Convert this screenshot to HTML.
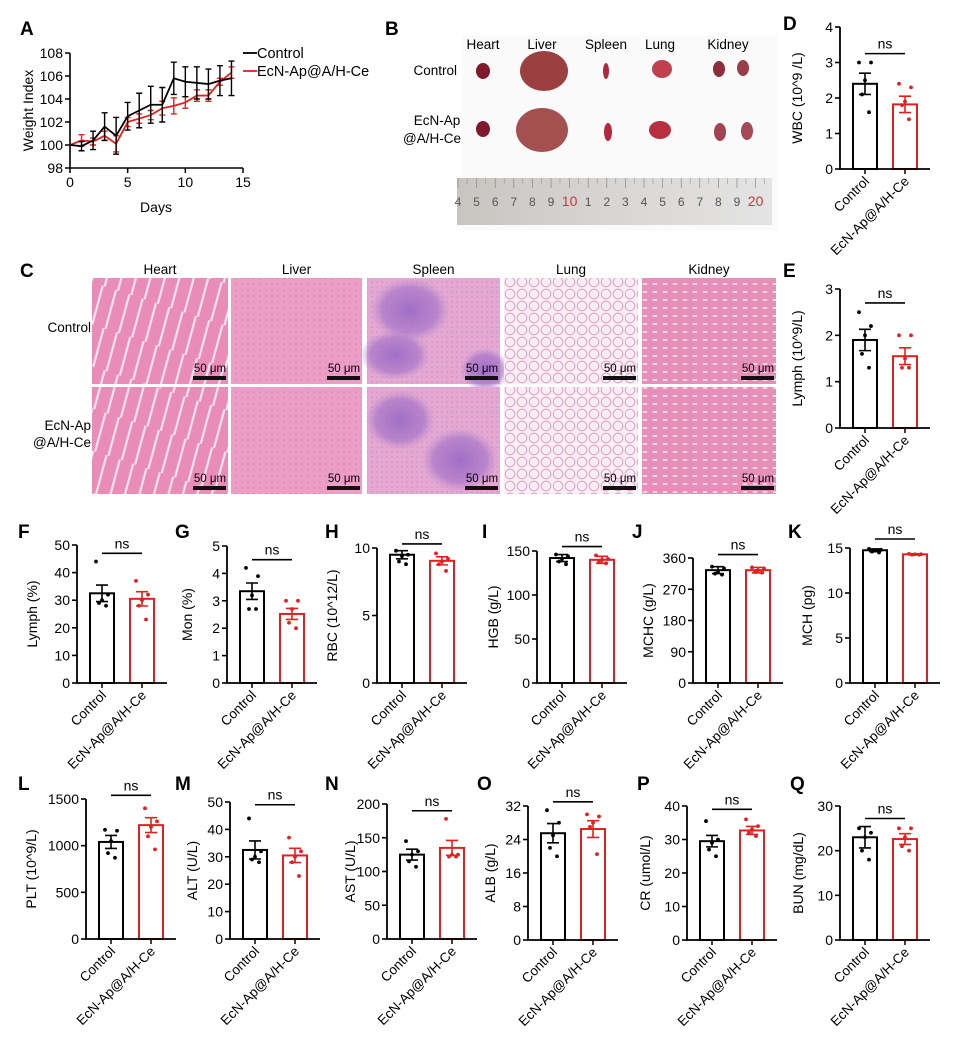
<!DOCTYPE html>
<html><head><meta charset="utf-8">
<style>
html,body{margin:0;padding:0;background:#fff;}
svg{display:block;font-family:"Liberation Sans",Arial,sans-serif;}
</style></head>
<body>
<svg id="fig" width="955" height="1041" viewBox="0 0 955 1041" xmlns="http://www.w3.org/2000/svg">
<defs>
  <pattern id="heartP" width="14" height="40" patternUnits="userSpaceOnUse" patternTransform="rotate(18)">
    <rect width="14" height="40" fill="#ea8cb8"/>
    <path d="M4 0 L6 40" stroke="#f6e4ee" stroke-width="2.2"/>
  </pattern>
  <pattern id="liverP" width="6" height="6" patternUnits="userSpaceOnUse">
    <rect width="6" height="6" fill="#ec9ec6"/>
    <circle cx="2" cy="2" r="0.8" fill="#d97fb0"/>
  </pattern>
  <pattern id="lungP" width="12" height="12" patternUnits="userSpaceOnUse">
    <rect width="12" height="12" fill="#f8eef4"/>
    <circle cx="6" cy="6" r="4.8" fill="none" stroke="#e2a6ca" stroke-width="1.1"/>
  </pattern>
  <pattern id="kidneyP" width="10" height="8" patternUnits="userSpaceOnUse">
    <rect width="10" height="8" fill="#e68fb8"/>
    <ellipse cx="5" cy="4" rx="2.5" ry="1" fill="#f6d8e8"/>
  </pattern>
  <pattern id="spleenP" width="5" height="5" patternUnits="userSpaceOnUse">
    <rect width="5" height="5" fill="#e4a8d2"/>
    <circle cx="2" cy="2" r="0.8" fill="#c990c8"/>
  </pattern>
  <radialGradient id="blob"><stop offset="0" stop-color="#9c6cc6" stop-opacity="0.95"/><stop offset="0.7" stop-color="#a876c8" stop-opacity="0.7"/><stop offset="1" stop-color="#b890d0" stop-opacity="0"/></radialGradient>
  <linearGradient id="rulerG" x1="0" x2="1"><stop offset="0" stop-color="#c8c4c0"/><stop offset="0.5" stop-color="#d8d6d4"/><stop offset="1" stop-color="#e4e4e4"/></linearGradient>
</defs>
<g id="root"></g>
</svg>
<script>
// ---------- Panel A data ----------
const days = [0,1,2,3,4,5,6,7,8,9,10,11,12,13,14];
const ctrlWeight = [100,99.9,100.4,101.6,100.8,102.5,103,103.5,103.5,105.8,105.5,105.4,105.3,105.6,105.8];
const ctrlWeightErr = [0,0.4,0.8,1.2,1.6,1.2,1.5,1.6,1.5,1.4,1.3,1.4,1.3,1.3,1.5];
const trtWeight = [100,100.4,100.3,100.8,100.1,102,102.3,102.6,103.2,103.4,103.7,104.3,104.3,105.5,106.3];
const trtWeightErr = [0,0.5,0.3,0.4,0.7,0.4,0.4,0.4,0.6,0.7,0.5,0.5,0.5,0.3,0.5];
const weightTicks = [98,100,102,104,106,108];
const dayTicks = [0,5,10,15];
const groups = ["Control","EcN-Ap@A/H-Ce"];

// ---------- Bar panel data ----------
const wbcMean=[2.4,1.82], wbcSem=[0.3,0.23], wbcCtrl=[3.0,3.0,2.5,2.1,1.6], wbcTrt=[2.4,2.3,1.9,1.8,1.4], wbcTicks=[0,1,2,3,4];
const lyaMean=[1.9,1.55], lyaSem=[0.23,0.18], lyaCtrl=[2.5,2.2,2.0,1.6,1.3], lyaTrt=[2.0,2.0,1.5,1.3,1.3], lyaTicks=[0,1,2,3];
const lypMean=[32.5,30.5], lypSem=[3,2.6], lypCtrl=[44,32,30,29,28], lypTrt=[37,32,30,28,23], lypTicks=[0,10,20,30,40,50];
const monMean=[3.35,2.52], monSem=[0.3,0.2], monCtrl=[4.2,3.9,3.2,2.7,2.7], monTrt=[3.0,3.0,2.7,2.2,2.0], monTicks=[0,1,2,3,4,5];
const rbcMean=[9.5,9.05], rbcSem=[0.3,0.3], rbcCtrl=[9.8,9.5,9.4,9.0,8.8], rbcTrt=[9.6,9.2,9.0,8.8,8.3], rbcTicks=[0,5,10];
const hgbMean=[142,140], hgbSem=[4,4], hgbCtrl=[146,144,141,138,135], hgbTrt=[145,141,140,138,136], hgbTicks=[0,50,100,150];
const mchcMean=[325,325], mchcSem=[10,8], mchcCtrl=[335,330,320,315,312], mchcTrt=[333,330,325,320,318], mchcTicks=[0,90,180,270,360];
const mchMean=[14.75,14.3], mchSem=[0.15,0.06], mchCtrl=[14.9,14.8,14.7,14.6,14.5], mchTrt=[14.35,14.3,14.3,14.25,14.25], mchTicks=[0,5,10,15];
const pltMean=[1040,1220], pltSem=[70,80], pltCtrl=[1170,1160,1050,920,870], pltTrt=[1400,1260,1200,1100,960], pltTicks=[0,500,1000,1500];
const altMean=[32.5,30.5], altSem=[3.3,2.6], altCtrl=[44,32,30,29,28], altTrt=[37,32,30,28,23], altTicks=[0,10,20,30,40,50];
const astMean=[125,135], astSem=[8,11], astCtrl=[145,130,125,115,107], astTrt=[178,125,125,122,122], astTicks=[0,50,100,150,200];
const albMean=[25.5,26.5], albSem=[2.3,2], albCtrl=[31,28,25,22,20], albTrt=[30,29.5,28,27,20.5], albTicks=[0,8,16,24,32];
const crMean=[29.5,32.7], crSem=[1.7,1.2], crCtrl=[35.5,30,29,27,25], crTrt=[36,34,33,32,31], crTicks=[0,10,20,30,40];
const bunMean=[23,22.6], bunSem=[2.4,1.2], bunCtrl=[25,24,23,20,18], bunTrt=[25,25,23,21,20], bunTicks=[0,10,20,30];
const nsLevels=[3.25,2.7,47,4.5,10.3,155,370,16,1540,49,190,33,39,27.2];

const NS="http://www.w3.org/2000/svg";
const root=document.getElementById('root');
const RED="#e3201f";
function el(tag,attrs,parent){const e=document.createElementNS(NS,tag);for(const k in attrs)e.setAttribute(k,attrs[k]);(parent||root).appendChild(e);return e;}
function txt(s,attrs,parent){const t=el('text',attrs,parent);t.textContent=s;return t;}

// ---------- Panel labels ----------
const letters=[["A",20,35],["B",385,35],["D",783,30],["C",20,277],["E",783,277],["F",18,538],["G",175,538],["H",325,538],["I",482,538],["J",632,538],["K",788,538],["L",18,790],["M",175,790],["N",325,790],["O",477,790],["P",637,790],["Q",790,790]];
letters.forEach(l=>{const t=txt(l[0],{x:l[1],y:l[2],'font-size':19,'font-weight':'bold'});

});

// ---------- Panel A ----------
(function(){
  const g=el('g',{});
  
  
  const x0=70,x1=243,yT=53,yB=168;
  const X=d=>x0+(d-0)/15*(x1-x0);
  const Y=v=>yB-(v-98)/10*(yB-yT);
  const ax=el('path',{d:`M${x0} ${yT} V${yB} H${x1}`,stroke:'#000','stroke-width':1.6,fill:'none'},g);
  
  
  weightTicks.forEach(v=>{el('line',{x1:x0-5,x2:x0,y1:Y(v),y2:Y(v),stroke:'#000','stroke-width':1.5},g);
    const t=txt(v,{x:x0-7,y:Y(v)+5,'font-size':14,'text-anchor':'end'},g);
    
    });
  dayTicks.forEach(v=>{el('line',{x1:X(v),x2:X(v),y1:yB,y2:yB+5,stroke:'#000','stroke-width':1.5},g);
    const t=txt(v,{x:X(v),y:yB+19,'font-size':14,'text-anchor':'middle'},g);
    
    });
  const xt=txt('Days',{x:156,y:212,'font-size':14,'text-anchor':'middle'},g);
  
  
  const yt=txt('Weight Index',{x:0,y:0,'font-size':14,'text-anchor':'middle',transform:`translate(33,${(yT+yB)/2}) rotate(-90)`},g);
  
  
  function series(vals,errs,color,name){
    const s=el('g',{},g);
    
    
    vals.forEach((v,i)=>{if(errs[i]>0){const x=X(days[i]);
      el('path',{d:`M${x} ${Y(v-errs[i])} V${Y(v+errs[i])} M${x-3} ${Y(v-errs[i])} h6 M${x-3} ${Y(v+errs[i])} h6`,stroke:color,'stroke-width':1.4,fill:'none'},s);}});
    el('polyline',{points:vals.map((v,i)=>X(days[i])+','+Y(v)).join(' '),fill:'none',stroke:color,'stroke-width':1.8},s);
  }
  series(trtWeight,trtWeightErr,RED,'series-ecn-ap');
  series(ctrlWeight,ctrlWeightErr,'#000','series-control');
  [['Control','#000',58],['EcN-Ap@A/H-Ce',RED,76]].forEach((l,i)=>{
    const lg=el('g',{},g);
    
    
    el('line',{x1:243,x2:257,y1:l[2]-5,y2:l[2]-5,stroke:l[1],'stroke-width':1.8},lg);
    txt(l[0],{x:257,y:l[2],'font-size':14.5},lg);
  });
})();

// ---------- Panel B (photo) ----------
(function(){
  const g=el('g',{});
  
  
  el('rect',{x:462,y:35,width:315,height:195,fill:'#fbfafb'},g);
  [['Heart',483],['Liver',542],['Spleen',606],['Lung',660],['Kidney',728]].forEach(o=>{
    const t=txt(o[0],{x:o[1],y:49,'font-size':13.5,'text-anchor':'middle'},g);
    
    });
  const r1=txt('Control',{x:457,y:75,'font-size':13.5,'text-anchor':'end'},g);
  
  
  const r2=txt('EcN-Ap',{x:437,y:125,'font-size':13.5,'text-anchor':'middle'},g);
  
  
  txt('@A/H-Ce',{x:432,y:143,'font-size':13.5,'text-anchor':'middle'},g);
  const organs=[[483,71,7,8,'#7e1a2a'],[544,71,24,20,'#9a4040'],[606,71,3,8,'#b0283a'],[662,69,10,9,'#c04050'],[719,69,6,8,'#8e2c3c'],[743,68,6,8,'#9a3e4c'],
                [483,129,7,8,'#7e1a2a'],[542,130,26,22,'#a45050'],[608,132,4,9,'#b4283a'],[660,130,11,9,'#b83040'],[720,132,6,9,'#a04450'],[747,131,6,9,'#a44a56']];
  organs.forEach(o=>{const e=el('ellipse',{cx:o[0],cy:o[1],rx:o[2],ry:o[3],fill:o[4]},g);
    
    });
  const ru=el('rect',{x:457,y:178,width:315,height:47,fill:'url(#rulerG)'},g);
  
  
  const nums=['4','5','6','7','8','9','10','1','2','3','4','5','6','7','8','9','20'];
  nums.forEach((n,i)=>{const x=458+i*18.6;const red=(n==='10'||n==='20');
    txt(n,{x:x,y:206,'font-size':red?14:12,fill:red?'#c23a3a':'#555','text-anchor':'middle'},g);
    el('line',{x1:x,x2:x,y1:178,y2:188,stroke:'#888','stroke-width':0.7},g);
    el('line',{x1:x+9,x2:x+9,y1:178,y2:184,stroke:'#999','stroke-width':0.6},g);});
})();

// ---------- Panel C (histology) ----------
(function(){
  const g=el('g',{});
  
  
  const cols=[[92,228,'Heart','heartP'],[231,362,'Liver','liverP'],[367,500,'Spleen','spleenP'],[504,638,'Lung','lungP'],[642,776,'Kidney','kidneyP']];
  const rows=[[278,384],[387,494]];
  cols.forEach((c,ci)=>{
    const h=txt(c[2],{x:(c[0]+c[1])/2,y:274,'font-size':13.5,'text-anchor':'middle'},g);
    
    
    rows.forEach((r,ri)=>{
      const t=el('rect',{x:c[0],y:r[0],width:c[1]-c[0],height:r[1]-r[0],fill:'url(#'+c[3]+')'},g);
      
      
      if(c[2]==='Spleen'){
        const bl=ri===0?[[410,310,40,32],[395,355,35,25],[485,370,25,22]]:[[400,420,35,30],[460,460,38,32]];
        bl.forEach(b=>el('ellipse',{cx:b[0],cy:b[1],rx:b[2],ry:b[3],fill:'url(#blob)'},g));
      }
      el('rect',{x:c[1]-35,y:r[1]-8,width:33,height:4,fill:'#111'},g);
      const s=txt('50 μm',{x:c[1]-18,y:r[1]-12,'font-size':11.5,'text-anchor':'middle'},g);
      
      
    });
  });
  txt('Control',{x:91,y:332,'font-size':13.5,'text-anchor':'end'},g);
  txt('EcN-Ap',{x:91,y:430,'font-size':13.5,'text-anchor':'end'},g);
  txt('@A/H-Ce',{x:91,y:447,'font-size':13.5,'text-anchor':'end'},g);
})();

// ---------- Bar panels ----------
function barPanel(name,title,ax,top,zero,ticks,means,sems,ctrlDots,trtDots,nsLevel,titleOff){
  const g=el('g',{});
  
  
  const ymax=ticks[ticks.length-1];
  const Y=v=>zero-(v/ymax)*(zero-top);
  const bw=24, bx=[ax+13,ax+53];
  [0,1].forEach(i=>{
    const col=i===0?'#000':RED;
    const b=el('rect',{x:bx[i],y:Y(means[i]),width:bw,height:zero-Y(means[i]),fill:'#fff',stroke:col,'stroke-width':2},g);
    
    
    const cx=bx[i]+bw/2, lo=Y(means[i]-sems[i]), hi=Y(means[i]+sems[i]);
    el('path',{d:`M${cx} ${lo} V${hi} M${cx-6} ${lo} h12 M${cx-6} ${hi} h12`,stroke:col,'stroke-width':1.6,fill:'none'},g);
    const dots=i===0?ctrlDots:trtDots;
    const off=[-6,6,0,-3,4];
    dots.forEach((d,j)=>{const p=el('circle',{cx:cx+off[j%5],cy:Y(d),r:1.9,fill:col},g);
      
      });
  });
  el('path',{d:`M${ax} ${top} V${zero} H${ax+90}`,stroke:'#000','stroke-width':1.8,fill:'none'},g);
  ticks.forEach(v=>{el('line',{x1:ax-5,x2:ax,y1:Y(v),y2:Y(v),stroke:'#000','stroke-width':1.6},g);
    const t=txt(v,{x:ax-7,y:Y(v)+5,'font-size':14,'text-anchor':'end'},g);
    
    });
  const yt=txt(title,{x:0,y:0,'font-size':14,'text-anchor':'middle',transform:`translate(${ax-titleOff},${(top+zero)/2}) rotate(-90)`},g);
  
  
  groups.forEach((gname,i)=>{const cx=bx[i]+bw/2;
    el('line',{x1:cx,x2:cx,y1:zero,y2:zero+5,stroke:'#000','stroke-width':1.5},g);
    const t=txt(gname,{x:0,y:0,'font-size':13.5,'text-anchor':'end',transform:`translate(${cx+5},${zero+13}) rotate(-45)`},g);
    
    });
  const ny=Y(nsLevel);
  el('line',{x1:bx[0]+bw/2,x2:bx[1]+bw/2,y1:ny,y2:ny,stroke:'#000','stroke-width':1.6},g);
  const n=txt('ns',{x:(bx[0]+bx[1]+bw)/2,y:ny-5,'font-size':14,'text-anchor':'middle'},g);
  
  
}
barPanel('wbc-chart','WBC (10^9 /L)',840,27,169,wbcTicks,wbcMean,wbcSem,wbcCtrl,wbcTrt,nsLevels[0],38);
barPanel('lymph-count-chart','Lymph (10^9/L)',840,289,428,lyaTicks,lyaMean,lyaSem,lyaCtrl,lyaTrt,nsLevels[1],38);
barPanel('lymph-percent-chart','Lymph (%)',77,545,683,lypTicks,lypMean,lypSem,lypCtrl,lypTrt,nsLevels[2],40);
barPanel('mon-chart','Mon (%)',227,546,683,monTicks,monMean,monSem,monCtrl,monTrt,nsLevels[3],35);
barPanel('rbc-chart','RBC (10^12/L)',377,548,683,rbcTicks,rbcMean,rbcSem,rbcCtrl,rbcTrt,nsLevels[4],40);
barPanel('hgb-chart','HGB (g/L)',537,551,683,hgbTicks,hgbMean,hgbSem,hgbCtrl,hgbTrt,nsLevels[5],39);
barPanel('mchc-chart','MCHC (g/L)',693,558,683,mchcTicks,mchcMean,mchcSem,mchcCtrl,mchcTrt,nsLevels[6],40);
barPanel('mch-chart','MCH (pg)',850,548,683,mchTicks,mchMean,mchSem,mchCtrl,mchTrt,nsLevels[7],38);
barPanel('plt-chart','PLT (10^9/L)',86,799,939,pltTicks,pltMean,pltSem,pltCtrl,pltTrt,nsLevels[8],50);
barPanel('alt-chart','ALT (U/L)',230,802,939,altTicks,altMean,altSem,altCtrl,altTrt,nsLevels[9],33);
barPanel('ast-chart','AST (U/L)',387,804,939,astTicks,astMean,astSem,astCtrl,astTrt,nsLevels[10],32);
barPanel('alb-chart','ALB (g/L)',528,806,940,albTicks,albMean,albSem,albCtrl,albTrt,nsLevels[11],33);
barPanel('cr-chart','CR (umol/L)',687,806,940,crTicks,crMean,crSem,crCtrl,crTrt,nsLevels[12],37);
barPanel('bun-chart','BUN (mg/dL)',840,806,940,bunTicks,bunMean,bunSem,bunCtrl,bunTrt,nsLevels[13],37);
</script>
</body></html>
